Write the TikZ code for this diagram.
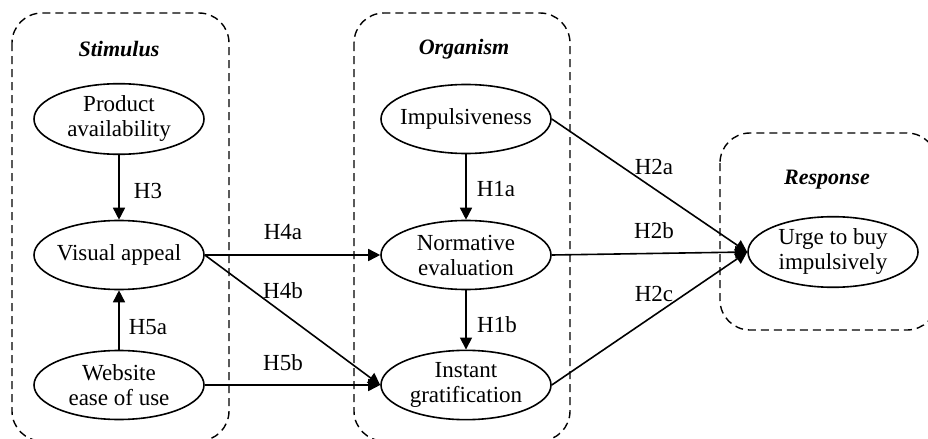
\documentclass[tikz,border=0pt]{standalone}
\usepackage{fontspec}
\setmainfont{Liberation Serif}
\usetikzlibrary{shapes.geometric,arrows.meta}

\begin{document}
\begin{tikzpicture}
[x=0.5pt,y=-0.5pt,
  ellipseDecorate/.style={shape=ellipse,draw,line width=0.8pt,minimum width=85pt,minimum height=34.5pt,inner xsep=-4pt,inner ysep=1pt,align=center,font=\fontsize{11.5}{12.5}\selectfont},%
  groupDecorate/.style={draw,line width=0.7pt,dash pattern=on 4pt off 2.5pt,rounded corners=15pt},%
  lineDecorate/.style={-{Triangle[length=6pt,width=6pt]},line width=0.8pt},%
  labelDecorate/.style={inner sep=0pt,font=\fontsize{11.5}{13}\selectfont},%
  titleDecorate/.style={inner sep=0pt,font=\fontsize{11}{13}\selectfont\bfseries\itshape}]
\clip (0,0) rectangle (928,439);
%% dashed groups
\draw[groupDecorate] (12,13) rectangle (229,441);
\draw[groupDecorate] (354,13) rectangle (570,441);
\draw[groupDecorate] (720,133) rectangle (937,330);
%% group titles
\foreach \titlename/\x/\y/\titletext in {stimulus/119/49/Stimulus, organism/464/49/Organism, response/827/180/Response}
{
  \node (\titlename) at (\x,\y) [titleDecorate] {\titletext};
}
%% nodes or vertices
\foreach \nodename/\x/\y/\nodetext in {prod/119/119/{Product\\availability}, visual/119/255/{Visual appeal}, website/119/385/{Website\\ease of use}, imp/466/119/{Impulsiveness}, norm/466/255/{Normative\\evaluation}, inst/466/385/{Instant\\gratification}, urge/833/252/{Urge to buy\\impulsively}}
{
  \node (\nodename) at (\x,\y) [ellipseDecorate] {\nodetext};
}
%% edges or lines
\path
\foreach \startnode/\endnode in {prod.south/visual.north, website.north/visual.south, imp.south/norm.north, norm.south/inst.north, visual.east/norm.west, visual.east/inst.west, website.east/inst.west, imp.east/urge.west, norm.east/urge.west, inst.east/urge.west}
{
  (\startnode) edge[lineDecorate] (\endnode)
};
%% hypothesis labels
\foreach \labname/\x/\y/\labtext in {hthree/148/191/H3, hfivea/148/327/H5a, honea/496/189/H1a, honeb/497/325/H1b, hfoura/283/232/H4a, hfourb/283/291/H4b, hfiveb/283/363/H5b, htwoa/654/167/H2a, htwob/654/231/H2b, htwoc/654/294/H2c}
{
  \node (\labname) at (\x,\y) [labelDecorate] {\labtext};
}
\end{tikzpicture}
\end{document}
